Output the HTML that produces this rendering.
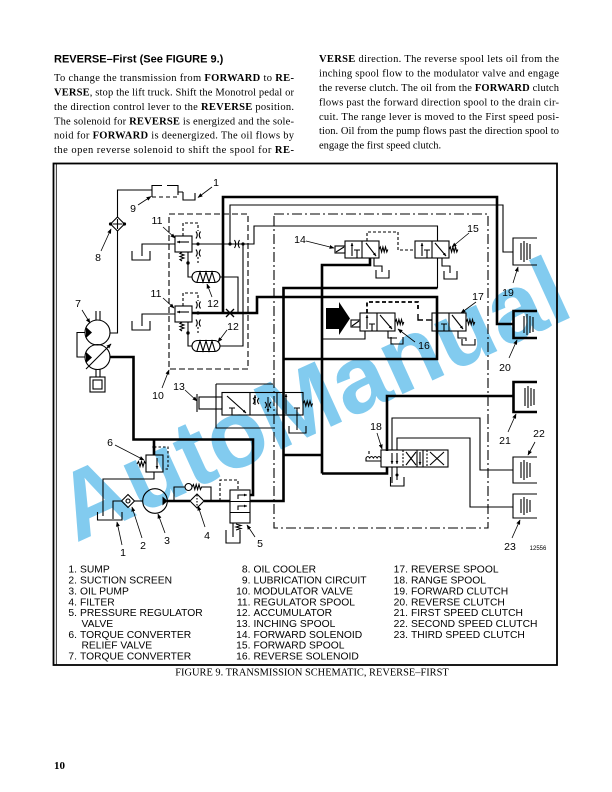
<!DOCTYPE html>
<html><head><meta charset="utf-8"><title>Figure 9 Transmission Schematic</title>
<style>html,body{margin:0;padding:0;background:#fff}svg{display:block}</style>
</head><body>
<svg xmlns="http://www.w3.org/2000/svg" width="612" height="792" viewBox="0 0 612 792">
<defs>
<marker id="a" viewBox="0 0 10 10" refX="9" refY="5" markerUnits="userSpaceOnUse" markerWidth="5" markerHeight="5" orient="auto"><path d="M0,1L10,5L0,9z" fill="#000"/></marker>
<marker id="s" viewBox="0 0 10 10" refX="9" refY="5" markerUnits="userSpaceOnUse" markerWidth="3.6" markerHeight="3.6" orient="auto"><path d="M0,1L10,5L0,9z" fill="#000"/></marker>
</defs>
<rect width="612" height="792" fill="#fff"/>

<!-- Heading and body text -->
<text x="54" y="62.3" font-family="'Liberation Sans',sans-serif" font-weight="bold" font-size="11">REVERSE–First (See FIGURE 9.)</text>
<g font-family="'Liberation Serif',serif" font-size="10.5" fill="#000">
<text x="54" y="81.1" textLength="240" lengthAdjust="spacing">To change the transmission from <tspan font-weight="bold">FORWARD</tspan> to <tspan font-weight="bold">RE-</tspan></text>
<text x="54" y="95.5" textLength="240" lengthAdjust="spacing"><tspan font-weight="bold">VERSE</tspan>, stop the lift truck. Shift the Monotrol pedal or</text>
<text x="54" y="109.9" textLength="240" lengthAdjust="spacing">the direction control lever to the <tspan font-weight="bold">REVERSE</tspan> position.</text>
<text x="54" y="124.3" textLength="240" lengthAdjust="spacing">The solenoid for <tspan font-weight="bold">REVERSE</tspan> is energized and the sole-</text>
<text x="54" y="138.7" textLength="240" lengthAdjust="spacing">noid for <tspan font-weight="bold">FORWARD</tspan> is deenergized. The oil flows by</text>
<text x="54" y="153.1" textLength="240" lengthAdjust="spacing">the open reverse solenoid to shift the spool for <tspan font-weight="bold">RE-</tspan></text>

<text x="319" y="62.2" textLength="240" lengthAdjust="spacing"><tspan font-weight="bold">VERSE</tspan> direction. The reverse spool lets oil from the</text>
<text x="319" y="76.6" textLength="240" lengthAdjust="spacing">inching spool flow to the modulator valve and engage</text>
<text x="319" y="91" textLength="240" lengthAdjust="spacing">the reverse clutch. The oil from the <tspan font-weight="bold">FORWARD</tspan> clutch</text>
<text x="319" y="105.4" textLength="240" lengthAdjust="spacing">flows past the forward direction spool to the drain cir-</text>
<text x="319" y="119.8" textLength="240" lengthAdjust="spacing">cuit. The range lever is moved to the First speed posi-</text>
<text x="319" y="134.2" textLength="240" lengthAdjust="spacing">tion. Oil from the pump flows past the direction spool to</text>
<text x="319" y="148.6">engage the first speed clutch.</text>
</g>

<!-- Watermark -->
<text transform="translate(312,398) rotate(-24.5)" x="0" y="34" text-anchor="middle" font-family="'Liberation Sans',sans-serif" font-weight="bold" font-size="96" fill="#82cbef">AutoManual</text>

<!-- Frame -->
<rect x="53.5" y="163.5" width="503.5" height="501.5" fill="none" stroke="#000" stroke-width="1.8"/>
<line x1="56.3" y1="164" x2="56.3" y2="664.5" stroke="#000" stroke-width="0.8"/>

<!-- Schematic -->
<g fill="none" stroke="#000" stroke-width="1.1">
<path d="M169,214H248V369H169Z" stroke-dasharray="6,3"/>
<path d="M274,214H488V528H274Z" stroke-dasharray="10,3,2,3"/>

<path d="M117.5,217V190H152"/>
<path d="M117.5,231V333H110"/>
<path d="M110.5,224L117.5,217L124.5,224L117.5,231Z"/>
<path d="M112.5,224H122.5M117.5,219V229"/>
<path d="M152,197V185.5H162M167,185.5H178V192H183"/>
<path d="M152,197H178V192" stroke-dasharray="4,3"/>
<path d="M183,192V200H195V193"/>

<circle cx="97.5" cy="332.5" r="12.5"/>
<circle cx="97.5" cy="357" r="12.5"/>
<path d="M96,311V320M100,311V320"/>
<path d="M85,332.5H77V357H85"/>
<path d="M86,369L111,344" marker-end="url(#a)"/>
<path d="M96,369.5V377M100,369.5V377"/>
<rect x="90" y="377" width="15" height="15"/>
<rect x="93" y="380" width="9" height="9"/>

<rect x="146" y="455" width="17" height="17"/>
<path d="M157,458V469" marker-end="url(#s)"/>
<path d="M137,464l1.5,-2.5l1.5,5l1.5,-5l1.5,5l1.5,-5l1.5,2.5"/>
<path d="M154,447H168V469H163" stroke-dasharray="2.5,2"/>
<path d="M154,472V479H103V516"/>

<path d="M97.5,512V520H122V512"/>
<path d="M113,519V501H121.5"/>
<path d="M121.5,501L128,494.5L134.5,501L128,507.5Z"/>
<circle cx="128" cy="501" r="2"/>
<path d="M134.5,501H142.7"/>
<circle cx="155" cy="501" r="12.3"/>

<path d="M190,501L197,494L204,501L197,508Z"/>
<path d="M197,495V507" stroke-dasharray="1.5,1.5"/>
<path d="M174,501V487H185"/>
<circle cx="188.5" cy="487" r="3.5"/>
<path d="M192,487l1.4,-2.5l1.4,5l1.4,-5l1.4,5l1.4,-5l1.4,5l1.2,-2.5H211V501"/>

<rect x="230" y="490" width="20" height="33"/>
<path d="M230,501.5H250M230,512.5H250"/>
<path d="M238,499V495H247" marker-end="url(#s)"/>
<path d="M238,510V506H247" marker-end="url(#s)"/>
<path d="M236,524l5,1.5l-5,1.5l5,1.5l-5,1.5"/>
<path d="M220,501V480H238V490" stroke-dasharray="3,2"/>
<path d="M233,523V537"/>
<path d="M226,530V543H240V530"/>

<rect x="175" y="236" width="17" height="16"/>
<path d="M189,242H177" marker-end="url(#s)"/>
<path d="M182,252l-2,1.5l4,1.5l-4,1.5l4,1.5l-4,1.5l2,1.5"/>
<path d="M188,252V277H192"/>
<path d="M183,236V223H198V231" stroke-dasharray="3,2"/>
<path d="M196,231.5Q198.5,235 196,238.5M200.5,231.5Q198,235 200.5,238.5"/>
<path d="M196,249.5Q198.5,253 196,256.5M200.5,249.5Q198,253 200.5,256.5"/>
<path d="M198,257V263" stroke-dasharray="2,2"/>
<path d="M175,244H142V256"/>
<path d="M132,251V260H150V251"/>
<rect x="192" y="271.5" width="28" height="11" rx="5.5"/>
<path d="M197,282L200,272L203,282L206,272L209,282L212,272L215,282"/>
<path d="M220,277H238V313"/>

<rect x="175" y="306" width="17" height="16"/>
<path d="M189,312H177" marker-end="url(#s)"/>
<path d="M182,322l-2,1.5l4,1.5l-4,1.5l4,1.5l-4,1.5l2,1.5"/>
<path d="M188,322V346H192"/>
<path d="M183,306V293H198V301" stroke-dasharray="3,2"/>
<path d="M196,301.5Q198.5,305 196,308.5M200.5,301.5Q198,305 200.5,308.5"/>
<path d="M196,319.5Q198.5,323 196,326.5M200.5,319.5Q198,323 200.5,326.5"/>
<path d="M198,327V333" stroke-dasharray="2,2"/>
<path d="M175,314H142V326"/>
<path d="M132,321V330H150V321"/>
<rect x="192" y="340.5" width="28" height="11" rx="5.5"/>
<path d="M197,351L200,341L203,351L206,341L209,351L212,341L215,351"/>
<path d="M220,346H243V244"/>

<path d="M192,244H254V226H437.5V241"/>
<path d="M234.5,240Q237,244 234.5,248M239.5,240Q237,244 239.5,248"/>
<path d="M230,244V205H503V252H513"/>
<path d="M437.5,258V288"/>

<path d="M216,384H273M216,384V428H273"/>
<rect x="222" y="392.5" width="81" height="22.5"/>
<path d="M250,392.5V415M277,392.5V415"/>
<rect x="199" y="397" width="23" height="12"/>
<path d="M197,394V412"/>
<path d="M229,408H235M232,408V415"/>
<path d="M227,396L246,413" marker-end="url(#s)"/>
<path d="M255,405V395" marker-end="url(#s)"/>
<path d="M253,398Q256,401 253,404M259,398Q256,401 259,404"/>
<path d="M268,397V412" marker-end="url(#s)"/>
<path d="M265,402Q268,405 265,408M271,402Q268,405 271,408"/>
<path d="M286,414V394" marker-end="url(#s)"/>
<path d="M294,408H300M297,408V415"/>
<path d="M303,403.5l1.4,-2.5l1.4,5l1.4,-5l1.4,5l1.4,-5l1.4,5l1.2,-2.5"/>
<path d="M297,415V430"/>
<path d="M289,426V433H306V426"/>

<rect x="335" y="246" width="10" height="7"/>
<path d="M336,252L344,247"/>
<rect x="345" y="241" width="34" height="17"/>
<path d="M362,241V258"/>
<path d="M352,256V243" marker-end="url(#s)"/>
<path d="M354,250H360M357,250V258"/>
<path d="M366,243L376,256" marker-end="url(#s)"/>
<path d="M379,249.5l1.3,-2.5l1.3,5l1.3,-5l1.3,5l1.3,-5l1.3,5l1,-2.5"/>
<path d="M367,241V232H398V250H415" stroke-dasharray="3,2"/>
<path d="M374,258V266H382V272"/>
<path d="M376,270V278H389V270"/>
<rect x="415" y="241" width="34" height="17"/>
<path d="M432,241V258"/>
<path d="M422,256V243" marker-end="url(#s)"/>
<path d="M424,250H430M427,250V258"/>
<path d="M435,243L446,256" marker-end="url(#s)"/>
<path d="M449,249.5l1.3,-2.5l1.3,5l1.3,-5l1.3,5l1.3,-5l1.3,5l1,-2.5"/>
<path d="M442,258V266H450V273"/>
<path d="M444,271V279H457V271"/>

<rect x="351" y="320" width="9" height="7"/>
<path d="M352,326L359,321"/>
<rect x="360" y="313" width="35" height="18"/>
<path d="M377,313V331"/>
<path d="M367,329V315" marker-end="url(#s)"/>
<path d="M369,324H375M372,324V331"/>
<path d="M380,315L392,329" marker-end="url(#s)"/>
<path d="M395,322l1.3,-2.5l1.3,5l1.3,-5l1.3,5l1.3,-5l1.3,5l1,-2.5"/>
<path d="M367,313V302H418V309" stroke-width="1.8" stroke-dasharray="4,2.5"/>
<path d="M418,314V320H423" stroke-width="1.4"/>
<path d="M426,320H432" stroke-width="1.4"/>
<path d="M388,331V338H397"/>
<path d="M391,337V344H403V337"/>
<path d="M365,331V339H322"/>
<rect x="432" y="313" width="34" height="18"/>
<path d="M449,313V331"/>
<path d="M441,324H447M444,324V331"/>
<path d="M452,315L463,329" marker-end="url(#s)"/>
<path d="M466,322l1.3,-2.5l1.3,5l1.3,-5l1.3,5l1.3,-5l1.3,5l1,-2.5"/>
<path d="M458,331V338H466V341"/>
<path d="M462,339V345H475V339"/>

<rect x="381" y="450" width="67" height="17"/>
<path d="M403,450V467M427,450V467" stroke-dasharray="2,1.5"/>
<path d="M417,450V467M423,450V467"/>
<path d="M406,452L416,465M416,452L406,465"/>
<path d="M420,452V465" marker-end="url(#s)"/>
<path d="M430,452L444,465M444,452L430,465"/>
<path d="M392,453V464" marker-end="url(#s)"/>
<path d="M397,453V464" marker-end="url(#s)"/>
<path d="M381,461H366V458q1.8,-3 3.7,0q1.8,-3 3.7,0q1.8,-3 3.7,0q1.8,-3 3.7,0"/>
<path d="M369,451V454"/>
<path d="M392,467V483M397,467V480"/>
<path d="M390.5,477V486H404V477"/>
<path d="M392,450V418H480V470H513"/>
<path d="M397,450V438H470V507H513"/>

<path d="M537,238H513V265H537"/>
<path d="M537,457H513V483H537"/>
<path d="M537,494H513V518H537"/>
</g>

<g fill="none" stroke="#000" stroke-width="2.6">
<path d="M110,357H133.5V439.5H253V495H250"/>
<path d="M154,439.5V455"/>
<path d="M167.3,501H190M204,501H230"/>
<path d="M250,501H283.5V288H437.5"/>
<path d="M283.5,359H437V297H257V313H192"/>
<path d="M223,313V197H497V324H513"/>
<path d="M283.5,455H322"/>
<path d="M322,473.5V265H370V258"/>
<path d="M322,473.5H387V467"/>
<path d="M387,451V396H513"/>
<path d="M537,311H513.5V338H537"/>
<path d="M537,382H513.5V412H537"/>
</g>

<g stroke="#000" stroke-width="1.1">
<path d="M521,243V260M524,241V262M527,243V260M530,244V259"/>
<path d="M524,316V333M527,314V335M530,316V333M533,317V332"/>
<path d="M525,388V406M528,386V408M531,388V406M534,389V405"/>
<path d="M521,462V478M524,460V480M527,462V478M530,463V477"/>
<path d="M521,499V513M524,497V515M527,499V513M530,500V512"/>
</g>

<g fill="#000" stroke="none">
<path d="M326,308H339V302L350,318.5L339,335V329H326Z"/>
<path d="M86,327L92,332.5L86,338Z"/>
<path d="M86,352L92,357.5L86,363Z"/>
<path d="M162.5,496.5L167.5,501L162.5,505.5Z"/>
<circle cx="110.5" cy="224" r="1.6"/>
<circle cx="124.5" cy="224" r="1.6"/>
<circle cx="188" cy="263" r="1.7"/>
<circle cx="188" cy="333" r="1.7"/>
<circle cx="198" cy="244" r="1.6"/>
<circle cx="230" cy="244" r="1.6"/>
<circle cx="243" cy="244" r="1.6"/>
<circle cx="198" cy="313" r="1.6"/>
<circle cx="154" cy="447" r="1.6"/>
<circle cx="397" cy="475" r="1.5"/>
</g>
<path d="M226,309L234,317M226,317L234,309" stroke="#000" stroke-width="1.3"/>

<g stroke="#000" stroke-width="0.8" fill="none">
<path d="M138,205L151,196.5" marker-end="url(#a)"/>
<path d="M212,187L198,197.5" marker-end="url(#a)"/>
<path d="M101,251L111,229" marker-end="url(#a)"/>
<path d="M82,310L90,323" marker-end="url(#a)"/>
<path d="M163,227L175,238" marker-end="url(#a)"/>
<path d="M163,298L174,308" marker-end="url(#a)"/>
<path d="M212,297L207,284" marker-end="url(#a)"/>
<path d="M227,330L218,342" marker-end="url(#a)"/>
<path d="M162,388L169,370" marker-end="url(#a)"/>
<path d="M185,390L197,401" marker-end="url(#a)"/>
<path d="M115,445L144,460" marker-end="url(#a)"/>
<path d="M122,545L117,522" marker-end="url(#a)"/>
<path d="M142,538L132,507" marker-end="url(#a)"/>
<path d="M165,533L158,514" marker-end="url(#a)"/>
<path d="M205,527L198,506" marker-end="url(#a)"/>
<path d="M255,537L247,525" marker-end="url(#a)"/>
<path d="M306,241L334,248" marker-end="url(#a)"/>
<path d="M469,233L452,247" marker-end="url(#a)"/>
<path d="M476,302L461,313" marker-end="url(#a)"/>
<path d="M415,342L398,329" marker-end="url(#a)"/>
<path d="M377,433L382,449" marker-end="url(#a)"/>
<path d="M513,283L518,267" marker-end="url(#a)"/>
<path d="M509,358L517,340" marker-end="url(#a)"/>
<path d="M508,432L516,414" marker-end="url(#a)"/>
<path d="M535,442L528,455" marker-end="url(#a)"/>
<path d="M512,538L520,520" marker-end="url(#a)"/>
</g>

<g font-family="'Liberation Sans',sans-serif" font-size="10.5" fill="#000" text-anchor="middle">
<text x="216" y="185.8">1</text>
<text x="133" y="211.8">9</text>
<text x="98" y="260.8">8</text>
<text x="78" y="306.8">7</text>
<text x="157" y="223.8">11</text>
<text x="156" y="296.8">11</text>
<text x="213" y="306.8">12</text>
<text x="233" y="329.8">12</text>
<text x="158" y="398.8">10</text>
<text x="179" y="389.8">13</text>
<text x="110" y="445.8">6</text>
<text x="123" y="555.8">1</text>
<text x="143" y="548.8">2</text>
<text x="167" y="543.8">3</text>
<text x="207" y="538.8">4</text>
<text x="260" y="546.8">5</text>
<text x="300" y="242.8">14</text>
<text x="473" y="231.8">15</text>
<text x="424" y="348.8">16</text>
<text x="478" y="299.8">17</text>
<text x="376" y="429.8">18</text>
<text x="508" y="295.8">19</text>
<text x="505" y="370.8">20</text>
<text x="505" y="443.8">21</text>
<text x="539" y="436.8">22</text>
<text x="510" y="549.8">23</text>
<text x="538" y="550" font-size="6">12556</text>
</g>

<g font-family="'Liberation Sans',sans-serif" font-size="10.3" fill="#000">
<g text-anchor="end">
<text x="77" y="572.7">1.</text>
<text x="77" y="583.55">2.</text>
<text x="77" y="594.4">3.</text>
<text x="77" y="605.25">4.</text>
<text x="77" y="616.1">5.</text>
<text x="77" y="637.8">6.</text>
<text x="77" y="659.5">7.</text>
<text x="250.5" y="572.7">8.</text>
<text x="250.5" y="583.55">9.</text>
<text x="250.5" y="594.4">10.</text>
<text x="250.5" y="605.25">11.</text>
<text x="250.5" y="616.1">12.</text>
<text x="250.5" y="626.95">13.</text>
<text x="250.5" y="637.8">14.</text>
<text x="250.5" y="648.65">15.</text>
<text x="250.5" y="659.5">16.</text>
<text x="408" y="572.7">17.</text>
<text x="408" y="583.55">18.</text>
<text x="408" y="594.4">19.</text>
<text x="408" y="605.25">20.</text>
<text x="408" y="616.1">21.</text>
<text x="408" y="626.95">22.</text>
<text x="408" y="637.8">23.</text>
</g>
<text x="80" y="572.7">SUMP</text>
<text x="80" y="583.55">SUCTION SCREEN</text>
<text x="80" y="594.4">OIL PUMP</text>
<text x="80" y="605.25">FILTER</text>
<text x="80" y="616.1">PRESSURE REGULATOR</text>
<text x="81.5" y="626.95">VALVE</text>
<text x="80" y="637.8">TORQUE CONVERTER</text>
<text x="81.5" y="648.65">RELIEF VALVE</text>
<text x="80" y="659.5">TORQUE CONVERTER</text>
<text x="253.5" y="572.7">OIL COOLER</text>
<text x="253.5" y="583.55">LUBRICATION CIRCUIT</text>
<text x="253.5" y="594.4">MODULATOR VALVE</text>
<text x="253.5" y="605.25">REGULATOR SPOOL</text>
<text x="253.5" y="616.1">ACCUMULATOR</text>
<text x="253.5" y="626.95">INCHING SPOOL</text>
<text x="253.5" y="637.8">FORWARD SOLENOID</text>
<text x="253.5" y="648.65">FORWARD SPOOL</text>
<text x="253.5" y="659.5">REVERSE SOLENOID</text>
<text x="411" y="572.7">REVERSE SPOOL</text>
<text x="411" y="583.55">RANGE SPOOL</text>
<text x="411" y="594.4">FORWARD CLUTCH</text>
<text x="411" y="605.25">REVERSE CLUTCH</text>
<text x="411" y="616.1">FIRST SPEED CLUTCH</text>
<text x="411" y="626.95">SECOND SPEED CLUTCH</text>
<text x="411" y="637.8">THIRD SPEED CLUTCH</text>
</g>

<text x="312" y="675.4" text-anchor="middle" font-family="'Liberation Serif',serif" font-size="10.4">FIGURE 9. TRANSMISSION SCHEMATIC, REVERSE–FIRST</text>
<text x="54" y="769" font-family="'Liberation Serif',serif" font-weight="bold" font-size="11">10</text>
</svg>
</body></html>
